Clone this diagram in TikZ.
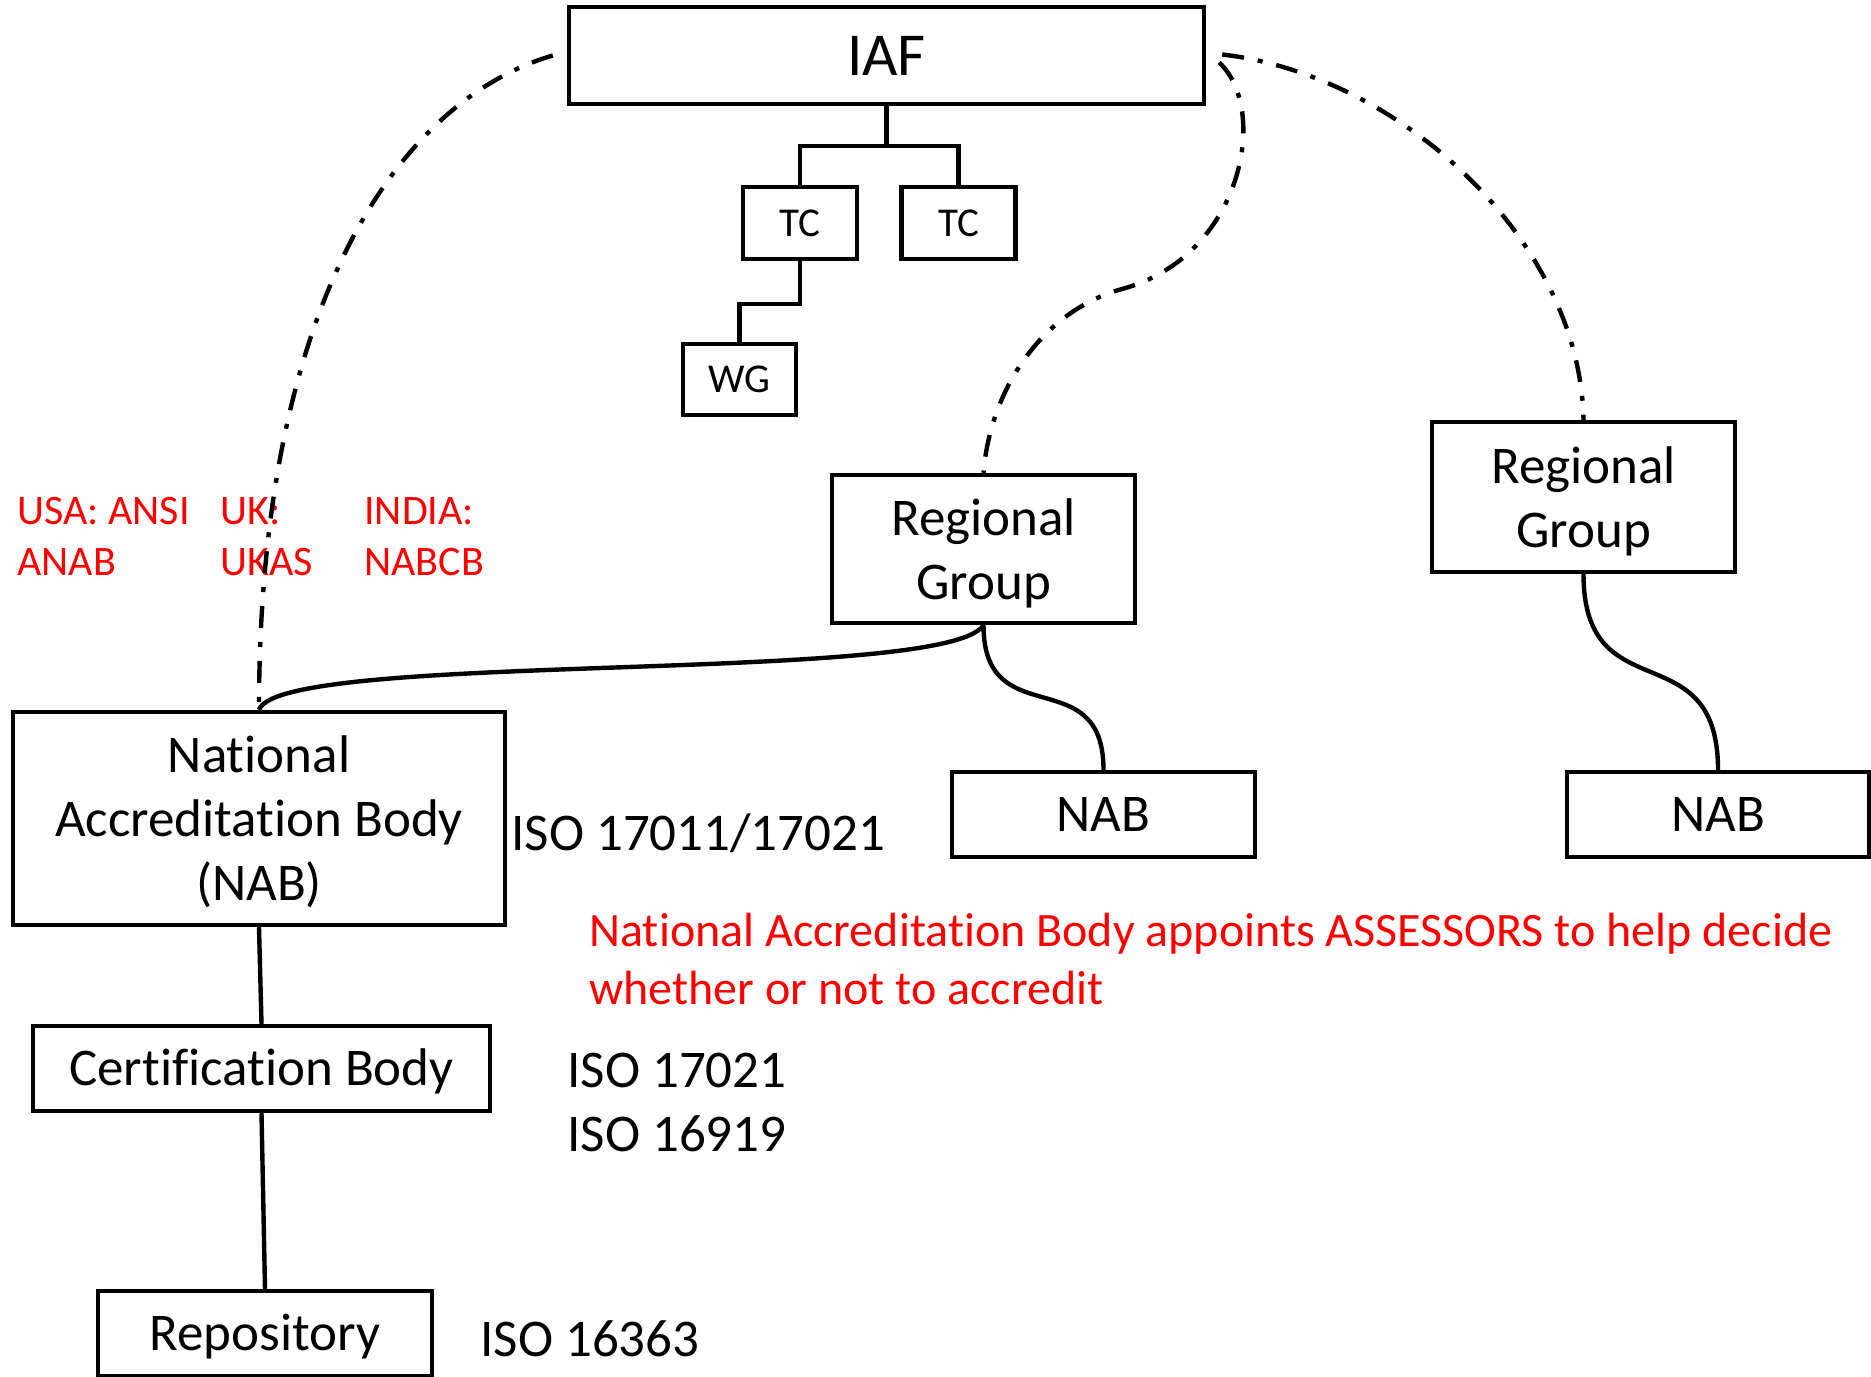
\documentclass[tikz,border=0pt]{standalone}
\usepackage{fontspec}
\setmainfont{Carlito}[Ligatures=NoCommon]
\begin{document}
\begin{tikzpicture}[x=0.5pt,y=-0.5pt,
  box/.style={draw,line width=2.2pt,inner sep=0pt,align=center,text depth=0pt,
    font=\fontsize{26.5}{32}\selectfont},
  onebox/.style={box,text height=17pt},
  smallbox/.style={box,text height=13.2pt,font=\fontsize{20.5}{25}\selectfont},
  link/.style={line width=2.2pt},
  dashdotlink/.style={line width=2.2pt,dash pattern=on 11pt off 7pt on 2.5pt off 7pt},
  note/.style={inner sep=0pt,anchor=base west,font=\fontsize{26.5}{32}\selectfont},
  rednote/.style={note,text=red,font=\fontsize{24}{29}\selectfont},
  countrynote/.style={note,text=red,font=\fontsize{21}{25.5}\selectfont}]
\useasboundingbox (0,0) rectangle (1871,1376);
% IAF and its committees
\node[box,minimum width=317.5pt,minimum height=48.5pt,text height=19.6pt,font=\fontsize{30.5}{36}\selectfont] (iaf) at (886.5,55.5) {IAF};
\node[smallbox,minimum width=57pt,minimum height=36pt] (tc1) at (800,223) {TC};
\node[smallbox,minimum width=57pt,minimum height=36pt] (tc2) at (958.5,223) {TC};
\node[smallbox,minimum width=56.5pt,minimum height=35.5pt] (wg) at (739.5,379.5) {WG};
\coordinate (fork) at (886.5,146);
\draw[link] (iaf.south) -- (fork);
\draw[link] (tc1.north) |- (fork) -| (tc2.north);
\draw[link] (tc1.south) -- ++(0,43) -| (wg.north);
% regional groups and accreditation bodies
\node[box,minimum width=151.5pt,minimum height=74pt] (rg1) at (983.5,549) {Regional\\Group};
\node[box,minimum width=151.5pt,minimum height=75pt] (rg2) at (1583.5,497) {Regional\\Group};
\node[box,minimum width=246pt,minimum height=106.5pt] (nab) at (259,818.5) {National\\Accreditation Body\\(NAB)};
\node[onebox,minimum width=151.5pt,minimum height=42.5pt] (nab2) at (1103.5,814.5) {NAB};
\node[onebox,minimum width=151pt,minimum height=42.5pt] (nab3) at (1718,814.5) {NAB};
\node[onebox,minimum width=228.5pt,minimum height=42.5pt] (cert) at (261.5,1068.5) {Certification Body};
\node[onebox,minimum width=167pt,minimum height=42.5pt] (repo) at (265,1333.5) {Repository};
% examples of national bodies
\node[countrynote] (usa1) at (17,524) {USA: ANSI};
\node[countrynote] (usa2) at (17,575) {ANAB};
\node[countrynote] (uk1) at (220,524) {UK:};
\node[countrynote] (uk2) at (220,575) {UKAS};
\node[countrynote] (india1) at (364,524) {INDIA:};
\node[countrynote] (india2) at (364,575) {NABCB};
% standards
\node[note] (isonab) at (511,850) {ISO 17011/17021};
\node[rednote] (assess1) at (589,946) {National Accreditation Body appoints ASSESSORS to help decide};
\node[rednote] (assess2) at (589,1004) {whether or not to accredit};
\node[note] (isocert1) at (567,1087) {ISO 17021};
\node[note] (isocert2) at (567,1151) {ISO 16919};
\node[note] (isorepo) at (480,1356) {ISO 16363};
% membership links
\coordinate (iafleft) at ([xshift=-7pt]iaf.west);
\coordinate (iafright) at ([xshift=8pt,yshift=0.5pt]iaf.east);
\coordinate (iafright2) at ([xshift=6.5pt,yshift=-3.5pt]iaf.east);
\draw[dashdotlink] (iafleft) .. controls (400,100) and (259,300) .. (nab.north);
\draw[dashdotlink] (iafright2) .. controls (1270,110) and (1242,257) .. (1122,289)
  .. controls (1042,311) and (990,390) .. (rg1.north);
\draw[dashdotlink] (iafright) .. controls (1400,75) and (1580,240) .. (rg2.north);
\draw[link] (rg1.south) .. controls (945,685) and (280,650) .. (nab.north);
\draw[link] (rg1.south) to[out=-90,in=90,looseness=1.5] (nab2.north);
\draw[link] (rg2.south) to[out=-90,in=90,looseness=1.5] (nab3.north);
\draw[link] (nab.south) -- (cert.north);
\draw[link] (cert.south) -- (repo.north);
\end{tikzpicture}
\end{document}
